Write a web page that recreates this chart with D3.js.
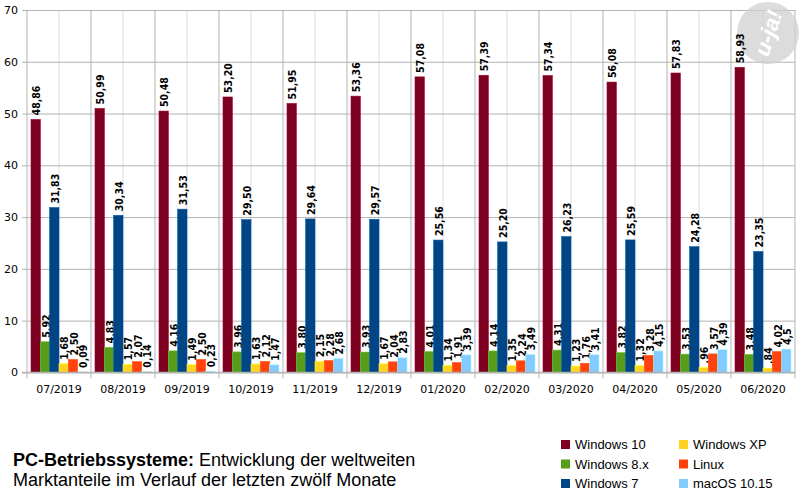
<!DOCTYPE html>
<html>
<head>
<meta charset="utf-8">
<script src="https://cdn.jsdelivr.net/npm/d3@7"></script>
<style>
  body { margin: 0; background: #fff; }
</style>
</head>
<body>
<svg id="chart" width="800" height="500"></svg>
<script>
// Werte so wie sie im Bild stehen (deutsches Format)
var months = ["07/2019", "08/2019", "09/2019", "10/2019", "11/2019", "12/2019",
              "01/2020", "02/2020", "03/2020", "04/2020", "05/2020", "06/2020"];
var seriesNames = ["Windows 10", "Windows 8.x", "Windows 7", "Windows XP", "Linux", "macOS 10.15"];
var seriesColors = ["#7e0021", "#579d1c", "#004586", "#ffd320", "#ff420e", "#83caff"];

var win10 = ["48,86", "50,99", "50,48", "53,20", "51,95", "53,36", "57,08", "57,39", "57,34", "56,08", "57,83", "58,93"];
var win8 = ["5,92", "4,83", "4,16", "3,96", "3,80", "3,93", "4,01", "4,14", "4,31", "3,82", "3,53", "3,48"];
var win7 = ["31,83", "30,34", "31,53", "29,50", "29,64", "29,57", "25,56", "25,20", "26,23", "25,59", "24,28", "23,35"];
var winXP = ["1,68", "1,57", "1,49", "1,63", "2,15", "1,67", "1,34", "1,35", "1,23", "1,32", ",96", ",84"];
var linux = ["2,50", "2,07", "2,50", "2,12", "2,28", "2,04", "1,91", "2,24", "1,76", "3,28", "3,57", "4,02"];
var macos = ["0,09", "0,14", "0,23", "1,47", "2,68", "2,83", "3,39", "3,49", "3,41", "4,15", "4,39", "4,5"];

var yTicks = [0, 10, 20, 30, 40, 50, 60, 70];

var allSeries = [win10, win8, win7, winXP, linux, macos];

var svg = d3.select('#chart');
var plotLeft = 27, plotRight = 795, plotTop = 10, plotBottom = 372.4;

var x0 = d3.scaleBand().domain(months).range([plotLeft, plotRight]).padding(0);
var x1 = d3.scaleBand().domain(d3.range(6)).range([4, x0.bandwidth() - 4]).padding(0);
var y = d3.scaleLinear().domain([0, 70]).range([plotBottom, plotTop]);

// minor vertical grid (middle of each month)
svg.append('g').selectAll('line')
    .data(months)
    .enter().append('line')
    .attr('x1', d => x0(d) + x0.bandwidth() / 2)
    .attr('x2', d => x0(d) + x0.bandwidth() / 2)
    .attr('y1', plotTop).attr('y2', plotBottom)
    .style('stroke', '#dddddd');

// major vertical grid
svg.append('g').selectAll('line')
    .data(months.concat(['end']))
    .enter().append('line')
    .attr('x1', (d, i) => plotLeft + i * x0.bandwidth())
    .attr('x2', (d, i) => plotLeft + i * x0.bandwidth())
    .attr('y1', plotTop).attr('y2', plotBottom + 6)
    .style('stroke', '#b3b3b3');

// horizontal grid + y axis
var yAxis = d3.axisLeft(y).tickValues(yTicks).tickSize(plotRight - plotLeft + 5).tickPadding(4);
var gy = svg.append('g')
    .attr('transform', 'translate(' + plotRight + ',0)')
    .call(yAxis);
gy.select('.domain').remove();
gy.selectAll('line').style('stroke', '#b3b3b3');
gy.selectAll('text')
    .attr('font-family', 'DejaVu Sans')
    .attr('font-size', 11)
    .attr('fill', '#000');

// x axis labels
var xAxis = d3.axisBottom(x0).tickSize(0).tickPadding(13);
var gx = svg.append('g')
    .attr('transform', 'translate(0,' + plotBottom + ')')
    .call(xAxis);
gx.select('.domain').remove();
gx.selectAll('text')
    .attr('font-family', 'DejaVu Sans')
    .attr('font-size', 11)
    .attr('fill', '#000');

// logo (hinter den Balken)
var logo = svg.append('g').attr('transform', 'translate(768,33)');
logo.append('circle').attr('r', 31).style('fill', '#d0d0d0').style('opacity', 0.75);
logo.append('text')
    .attr('transform', 'rotate(-72)')
    .attr('text-anchor', 'middle')
    .attr('dy', '0.35em')
    .attr('font-family', 'Liberation Sans')
    .attr('font-weight', 'bold')
    .attr('font-style', 'italic')
    .attr('font-size', 22)
    .attr('fill', '#fff')
    .text('u-ja!');

// bars
var toNum = s => parseFloat(s.replace(',', '.'));

var groups = svg.append('g').selectAll('g')
    .data(months)
    .enter().append('g')
    .attr('transform', d => 'translate(' + x0(d) + ',0)');

var cells = groups.selectAll('g')
    .data((m, mi) => allSeries.map((s, si) => ({ si: si, label: s[mi], v: toNum(s[mi]) })))
    .enter().append('g');

cells.append('rect')
    .attr('x', d => x1(d.si))
    .attr('width', x1.bandwidth())
    .attr('y', d => y(d.v))
    .attr('height', d => plotBottom - y(d.v))
    .style('fill', d => seriesColors[d.si])
    .style('stroke', d => d3.color(seriesColors[d.si]).brighter(0.6))
    .style('stroke-width', 0.6);

cells.append('text')
    .attr('transform', d => 'translate(' + (x1(d.si) + x1.bandwidth() / 2 + 1) + ',' + (y(d.v) - 4) + ') rotate(-90)')
    .attr('dy', '0.35em')
    .attr('font-family', 'DejaVu Sans Condensed, DejaVu Sans')
    .attr('font-stretch', 'condensed')
    .attr('font-weight', 'bold')
    .attr('font-size', 10.5)
    .attr('fill', '#000')
    .text(d => d.label);

// baseline
svg.append('line')
    .attr('x1', plotLeft - 5).attr('x2', plotRight)
    .attr('y1', plotBottom).attr('y2', plotBottom)
    .style('stroke', '#b3b3b3')
    .style('stroke-width', 1.5);

// title
var title = svg.append('text')
    .attr('font-family', 'Liberation Sans')
    .attr('font-size', 18)
    .attr('fill', '#000');
title.append('tspan').attr('x', 13).attr('y', 466).attr('font-weight', 'bold').text('PC-Betriebssysteme:');
title.append('tspan').text(' Entwicklung der weltweiten');
title.append('tspan').attr('x', 13).attr('y', 486).text('Marktanteile im Verlauf der letzten zwölf Monate');

// legend
var legend = svg.append('g').selectAll('g')
    .data(seriesNames)
    .enter().append('g')
    .attr('transform', (d, i) => 'translate(' + (i < 3 ? 561 : 679) + ',' + (440 + (i % 3) * 19.5) + ')');
legend.append('rect')
    .attr('width', 9).attr('height', 9)
    .style('fill', (d, i) => seriesColors[i]);
legend.append('text')
    .attr('x', 14).attr('y', 4.5).attr('dy', '0.35em')
    .attr('font-family', 'Liberation Sans')
    .attr('font-size', 13)
    .attr('fill', '#000')
    .text(d => d);
</script>
</body>
</html>
